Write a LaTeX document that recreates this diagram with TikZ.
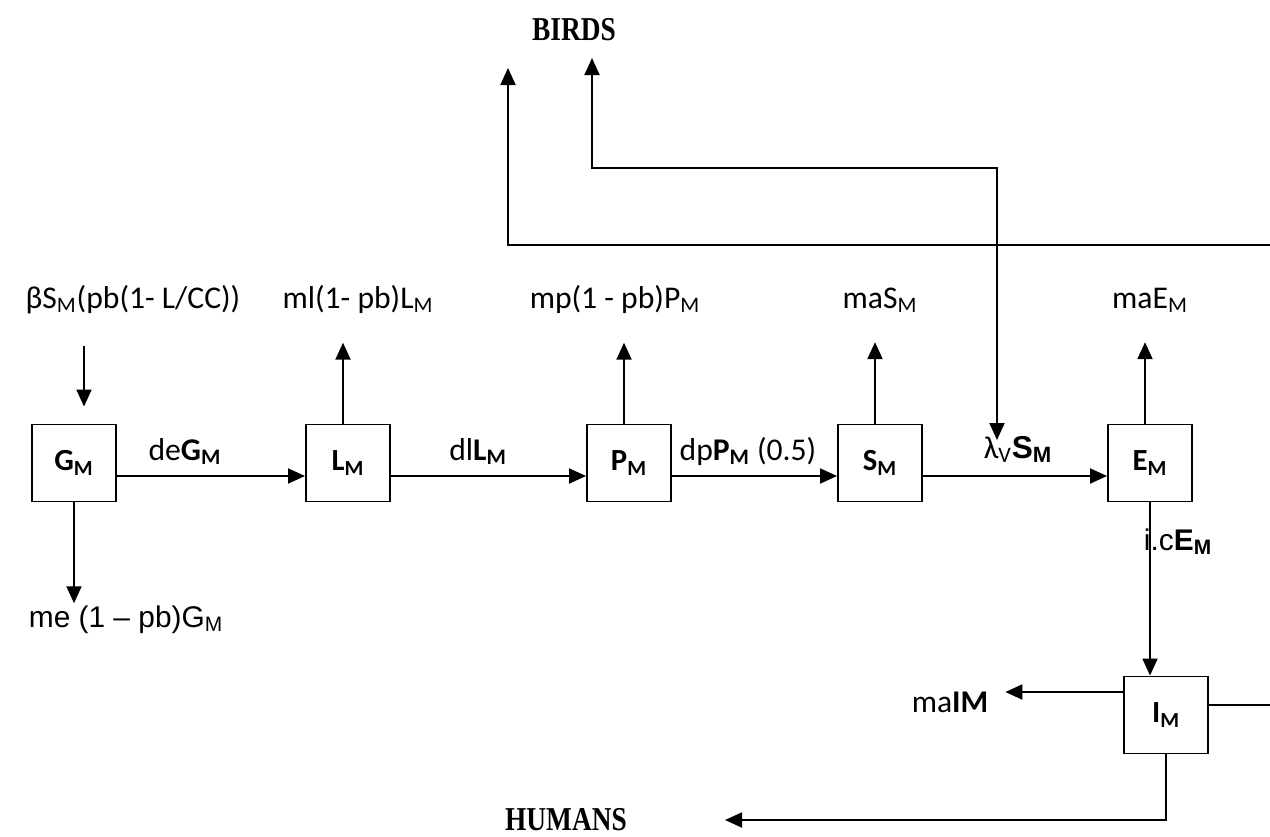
\documentclass[tikz,border=0pt]{standalone}
\usepackage{fontspec}
\setmainfont{Carlito}
\newfontfamily\arialfont{Liberation Sans}
\newfontfamily\timesfont{Liberation Serif}
\usetikzlibrary{arrows.meta, calc}

\begin{document}
\begin{tikzpicture}[
  x=0.02cm, y=-0.02cm,
  comp/.style={rectangle, draw, line width=1.1pt,
               minimum width=1.68cm, minimum height=1.54cm,
               font=\fontsize{17.5}{20}\selectfont\bfseries},
  rate/.style={anchor=base, inner sep=1pt, font=\fontsize{18}{21}\selectfont},
  arate/.style={anchor=base, inner sep=1pt,
                font=\arialfont\fontsize{17}{20}\selectfont},
  host/.style={anchor=base, inner sep=1pt,
               font=\timesfont\bfseries\fontsize{19}{22}\selectfont},
  arr/.style={-{Triangle[length=0.34cm, width=0.3cm]}, line width=1.1pt},
  biarr/.style={{Triangle[length=0.34cm, width=0.3cm]}-{Triangle[length=0.34cm, width=0.3cm]},
                line width=1.1pt},
  link/.style={line width=1.1pt},
]
\useasboundingbox (0,0) rectangle (1270,836);

%% Mosquito compartments
\node[comp] (G) at (74,463)   {G\textsubscript{M}};
\node[comp] (L) at (348,463)  {L\textsubscript{M}};
\node[comp] (P) at (629,463)  {P\textsubscript{M}};
\node[comp] (S) at (880,463)  {S\textsubscript{M}};
\node[comp] (E) at (1150,463) {E\textsubscript{M}};
\node[comp] (I) at (1166,715) {I\textsubscript{M}};

%% Hosts
\node[host] (birds)  at (574,40)  {\scalebox{0.82}[1]{BIRDS}};
\node[host] (humans) at (566,830) {\scalebox{0.82}[1]{HUMANS}};

%% Rates on top
\node[rate] (birth) at (133,308) {βS\textsubscript{M}(pb(1- L/CC))};
\node[rate] (mlL)   at (358,308) {ml(1- pb)L\textsubscript{M}};
\node[rate] (mpP)   at (615,308) {mp(1 - pb)P\textsubscript{M}};
\node[rate] (maS)   at (880,308) {maS\textsubscript{M}};
\node[rate] (maE)   at (1150,308) {maE\textsubscript{M}};

%% Rates along the chain
\node[rate] (deG) at (185,460) {de\textbf{G\textsubscript{M}}};
\node[rate] (dlL) at (478,460) {dl\textbf{L\textsubscript{M}}};
\node[rate] (dpP) at (748,460) {dp\textbf{P\textsubscript{M}} (0.5)};
\node[rate] (lamS) at (1018,458) {λ\textsubscript{V}{\arialfont\bfseries S\textsubscript{M}}};
\node[arate] (meG) at (126,627) {me (1 – pb)G\textsubscript{M}};
\node[arate] (icE) at (1178,550) {i.c\textbf{E\textsubscript{M}}};
\node[rate] (maI) at (950,712) {ma\textbf{IM}};

%% Free ends
\coordinate (edgeI)  at (1270,706);
\coordinate (edgeB)  at (1270,245);
\coordinate (tipB1)  at (508,68);
\coordinate (tipB2)  at (592,58);
\coordinate (bendB2) at (997,168);
\coordinate (tipLam) at (997,440);
\coordinate (tipH)   at (725,820);

%% Chain
\draw[arr] ([yshift=-0.26cm]G.east) -- ([yshift=-0.26cm]L.west);
\draw[arr] ([yshift=-0.26cm]L.east) -- ([yshift=-0.26cm]P.west);
\draw[arr] ([yshift=-0.26cm]P.east) -- ([yshift=-0.26cm]S.west);
\draw[arr] ([yshift=-0.26cm]S.east) -- ([yshift=-0.26cm]E.west);
\draw[arr] (E.south) -- (E.south |- I.north);

%% Inflow and losses
\draw[arr, shorten <=0.6cm, shorten >=0.34cm]
  ([xshift=0.2cm]G.north |- birth.south) -- ([xshift=0.2cm]G.north);
\draw[arr] (G.south) -- (G.south |- meG.north);
\draw[arr, shorten >=0.55cm] ([xshift=-0.1cm]L.north) -- ([xshift=-0.1cm]L.north |- mlL.south);
\draw[arr, shorten >=0.55cm] ([xshift=-0.1cm]P.north) -- ([xshift=-0.1cm]P.north |- mpP.south);
\draw[arr, shorten >=0.55cm] ([xshift=-0.1cm]S.north) -- ([xshift=-0.1cm]S.north |- maS.south);
\draw[arr, shorten >=0.55cm] ([xshift=-0.1cm]E.north) -- ([xshift=-0.1cm]E.north |- maE.south);
\draw[arr, shorten >=0.3cm] ([yshift=0.46cm]I.west) -- ([yshift=0.46cm]I.west -| maI.east);

%% Links to hosts
\draw[link] ([yshift=0.2cm]I.east) -- ([yshift=0.2cm]I.east -| edgeI);
\draw[arr] (edgeB) -| (tipB1);
\draw[biarr] (tipLam) -- (bendB2) -| (tipB2);
\draw[arr] (I.south) |- (tipH);

\end{tikzpicture}
\end{document}
